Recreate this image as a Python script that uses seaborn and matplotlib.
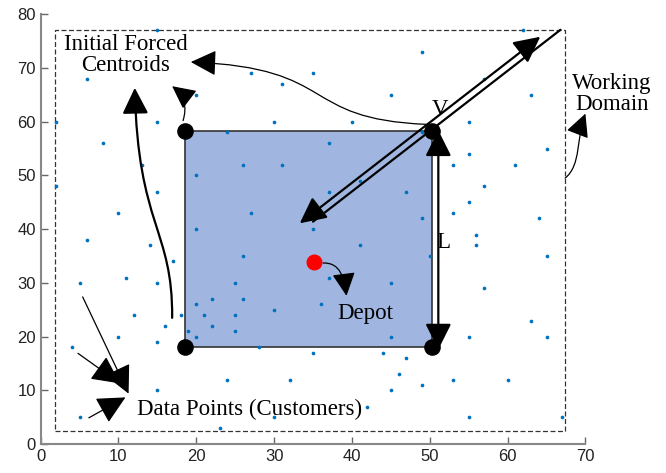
import numpy as np
import pandas as pd
import seaborn as sns
import matplotlib.pyplot as plt
from matplotlib.patches import Rectangle, FancyArrowPatch
from matplotlib.path import Path

# customer locations
cust_x = [15, 6, 27, 35, 31, 20, 2, 15, 30, 24, 8, 37, 13, 26, 31, 20, 2, 15, 37, 10,
          27, 20, 35, 6, 62, 49, 57, 45, 63, 40, 55, 49, 55, 65, 53, 61, 57, 41, 47, 55,
          53, 64, 49, 56, 56, 41, 65, 50, 45, 57, 63, 45, 55, 65, 44, 47, 46, 53, 60, 49,
          45, 42, 55, 67, 14, 17, 26, 5, 11, 15, 25, 37, 20, 22, 26, 36, 30, 12, 18, 21,
          25, 22, 16, 19, 25, 10, 20, 4, 15, 28, 35, 11, 24, 32, 15, 5, 30, 23]
cust_y = [77, 68, 69, 69, 67, 65, 60, 60, 60, 58, 56, 56, 52, 52, 52, 50, 48, 47, 47, 43,
          43, 40, 40, 38, 77, 73, 68, 65, 65, 60, 60, 58, 54, 55, 52, 52, 48, 49, 47, 45,
          43, 42, 42, 39, 37, 37, 35, 35, 30, 29, 23, 20, 20, 20, 17, 16, 13, 12, 12, 11,
          10, 7, 5, 5, 37, 34, 35, 30, 31, 30, 30, 31, 26, 27, 27, 26, 25, 24, 24, 24,
          24, 22, 22, 21, 21, 20, 20, 18, 19, 18, 17, 14, 12, 12, 10, 5, 5, 3]

corner_x = [18.5, 50.3, 18.5, 50.3]
corner_y = [18.0, 18.0, 58.3, 58.3]
depot = (35.1, 33.9)
domain = (1.8, 2.5, 67.4, 77.1)

df = pd.DataFrame({'x': cust_x, 'y': cust_y})

sns.set_style("white")
plt.rcParams['font.family'] = ['Liberation Sans', 'DejaVu Sans']

fig = plt.figure(figsize=(6.66, 4.73), dpi=100)
ax = fig.add_axes([0.061, 0.061, 0.818, 0.909])

# working domain and the square
ax.add_patch(Rectangle((domain[0], domain[1]), domain[2] - domain[0], domain[3] - domain[1],
                       fill=False, ls=(0, (4, 2)), lw=0.9, ec='#333333', zorder=1))
ax.add_patch(Rectangle((corner_x[0], corner_y[0]), corner_x[1] - corner_x[0],
                       corner_y[2] - corner_y[0], fc='#a0b6e0', ec='#333333', lw=1.2, zorder=1))

sns.scatterplot(data=df, x='x', y='y', ax=ax, color='#0072bd', s=7, linewidth=0, zorder=3)
ax.scatter(corner_x, corner_y, s=120, color='black', zorder=5)
ax.scatter([depot[0]], [depot[1]], s=110, color='red', zorder=5)

serif = dict(family=['Liberation Serif', 'DejaVu Serif'], fontsize=16.5, color='black')
head = '-|>,head_length=0.8,head_width=0.4'


def curve(p0, c1, c2, p1, lw=1.0, ms=20):
    # cubic bezier arrow
    path = Path([p0, c1, c2, p1], [Path.MOVETO, Path.CURVE4, Path.CURVE4, Path.CURVE4])
    ax.add_patch(FancyArrowPatch(path=path, arrowstyle=head, mutation_scale=ms,
                                 color='black', lw=lw, zorder=6, clip_on=False))


def arrow(xy, xytext, lw=1.0, ms=20, rad=0.0, style=head):
    ax.annotate("", xy=xy, xytext=xytext, annotation_clip=False,
                arrowprops=dict(arrowstyle=style, color='black', lw=lw, mutation_scale=ms,
                                shrinkA=0, shrinkB=0,
                                connectionstyle=f"arc3,rad={rad}"), zorder=6)


# initial forced centroids
ax.text(10.9, 72.4, "Initial Forced\nCentroids", ha='center', va='center',
        linespacing=1.0, **serif)
curve((16.9, 23.5), (17.0, 40.0), (12.5, 40.5), (12.1, 66.3), lw=1.6)
arrow((16.9, 66.6), (18.3, 60.2), lw=0.9, rad=0.35, ms=18)
curve((49.6, 59.5), (33.0, 60.5), (38.5, 70.0), (19.3, 71.1), lw=0.9)

# working domain label
ax.text(73.4, 65.1, "Working\nDomain", ha='center', va='center', linespacing=1.0,
        clip_on=False, **serif)
curve((67.4, 49.5), (69.5, 52.0), (68.8, 57.0), (70.0, 61.5), lw=0.9, ms=18)

# data points label
ax.text(26.9, 6.4, "Data Points (Customers)", ha='center', va='center', **serif)
arrow((11.3, 9.4), (5.4, 27.4), lw=0.9, ms=22)
arrow((10.2, 11.3), (4.8, 16.9), lw=0.9, ms=22)
arrow((10.9, 8.7), (6.2, 4.9), lw=0.9, ms=22)

# depot
ax.text(41.7, 24.4, "Depot", ha='center', va='center', **serif)
curve((36.3, 33.7), (38.5, 33.8), (39.0, 31.0), (39.3, 27.6), lw=0.9, ms=18)

# V arrows (two parallel lines)
arrow((33.3, 41.1), (64.2, 75.8), lw=1.6,
      style='<|-|>,head_length=0.8,head_width=0.4')
arrow((35.0, 41.4), (66.8, 77.1), lw=1.6, style='-')
ax.text(51.3, 62.2, "V", ha='center', va='center', **serif)

# L arrow
arrow((51.1, 17.6), (51.1, 58.4), lw=1.6, style='<|-|>,head_length=0.8,head_width=0.4')
ax.text(51.8, 37.6, "L", ha='center', va='center',
        bbox=dict(fc='white', ec='none', pad=1), **serif)

ax.set_xlim(0, 70)
ax.set_ylim(0, 80)
ax.set_xticks(range(0, 71, 10))
ax.set_yticks(range(0, 81, 10))
ax.set_xlabel("")
ax.set_ylabel("")
sns.despine(ax=ax)
for sp in ['left', 'bottom']:
    ax.spines[sp].set_color('#888888')
    ax.spines[sp].set_linewidth(1.5)
ax.tick_params(direction='in', length=5, width=1, color='#666666',
               labelsize=12, labelcolor='#222222', left=True, bottom=True)

fig.savefig("out.png", dpi=100)
